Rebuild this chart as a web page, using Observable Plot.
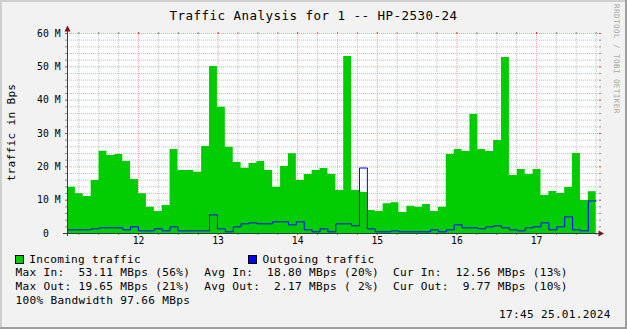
<!DOCTYPE html>
<html>
<head>
<meta charset="utf-8">
<script src="https://cdn.jsdelivr.net/npm/d3@7"></script>
<script src="https://cdn.jsdelivr.net/npm/@observablehq/plot@0.6"></script>
<style>
  html, body { margin: 0; padding: 0; background: #f2f2f2; }
  #chart svg { display: block; }
  #chart svg text { white-space: pre; }
</style>
</head>
<body>
<div id="chart"></div>
<script>
const chartTitle = "Traffic Analysis for 1 -- HP-2530-24";
const yAxisTitle = "traffic in Bps";
const watermark = "RRDTOOL / TOBI OETIKER";
const timestamp = "17:45 25.01.2024";

// time of day in hours
const timeRange = [11.108, 17.779];
const sampleStart = 11.108;
const sampleStep = 0.09914;

// MBps per sample
const incoming = [
  13.9, 11.9, 11.1, 15.9, 24.7, 23.4, 23.7, 21.6, 16.2, 11.9,
  7.9, 6.6, 8.4, 25.2, 18.9, 18.9, 18.4, 26.1, 50.1, 37.9,
  25.9, 21.3, 19.6, 21.0, 21.6, 18.9, 13.9, 20.1, 23.9, 15.9,
  17.7, 18.9, 19.5, 17.7, 12.9, 53.11, 12.9, 12.3, 6.9, 6.6,
  8.9, 9.2, 6.3, 8.2, 7.9, 8.7, 6.6, 7.9, 23.7, 25.2,
  24.6, 35.7, 25.2, 24.6, 27.9, 52.8, 17.4, 19.2, 17.7, 19.2,
  11.4, 12.6, 12.0, 13.8, 24.0, 9.9, 12.56
];
const outgoing = [
  1.1, 1.1, 1.1, 1.4, 1.7, 1.7, 1.7, 1.1, 2.0, 0.8,
  0.8, 1.4, 0.8, 2.0, 0.8, 0.8, 0.8, 0.8, 5.6, 1.4,
  0.5, 2.0, 2.9, 3.2, 2.9, 2.9, 3.5, 3.5, 2.6, 3.5,
  1.1, 0.5, 1.4, 0.5, 2.9, 2.9, 2.3, 19.65, 1.4, 0.5,
  0.5, 0.8, 0.5, 0.5, 0.5, 0.5, 1.1, 0.5, 1.1, 2.6,
  1.7, 1.7, 1.4, 2.0, 2.3, 1.7, 1.1, 0.8, 1.7, 2.0,
  3.2, 1.1, 2.0, 5.0, 1.1, 0.8, 9.77
];

const hourTicks = [12, 13, 14, 15, 16, 17];
const hourLabels = ["12", "13", "14", "15", "16", "17"];
const valueDomain = [0, 60];
const valueTicks = [0, 10, 20, 30, 40, 50, 60];
const valueLabels = ["0  ", "10 M", "20 M", "30 M", "40 M", "50 M", "60 M"];

const seriesNames = ["Incoming traffic", "Outgoing traffic"];
const seriesColors = ["#00cc00", "#0000ff"];
const statLines = [
  "Max In:  53.11 MBps (56%)  Avg In:  18.80 MBps (20%)  Cur In:  12.56 MBps (13%)",
  "Max Out: 19.65 MBps (21%)  Avg Out:  2.17 MBps ( 2%)  Cur Out:  9.77 MBps (10%)",
  "100% Bandwidth 97.66 MBps"
];

// ---- build table ----
const series = incoming.map((v, i) => ({t: sampleStart + i * sampleStep, inc: v, out: outgoing[i]}));
series.push({t: sampleStart + incoming.length * sampleStep, inc: incoming[incoming.length - 1], out: outgoing[outgoing.length - 1]});

const quarterTicks = d3.range(Math.ceil(timeRange[0] * 4) / 4, timeRange[1], 0.25);
const minorX = quarterTicks.filter(h => !Number.isInteger(h));
const minorY = d3.range(valueDomain[0], valueDomain[1], 2).filter(v => v % 10 !== 0);

const GRID = "#8f8f8f", MGRID = "#df3030", AXIS = "#2e4142", ARROW = "#801010";
const FONT = "'DejaVu Sans Mono', monospace";

const chart = Plot.plot({
  width: 627, height: 329,
  marginLeft: 67, marginRight: 29, marginTop: 33, marginBottom: 96,
  x: {domain: timeRange, axis: null},
  y: {domain: valueDomain, axis: null},
  style: {background: "#f2f2f2", fontFamily: FONT, overflow: "visible", color: "#000"},
  marks: [
    Plot.frame({fill: "#ffffff", stroke: null}),
    // dashed grid
    Plot.ruleY(minorY, {stroke: GRID, strokeOpacity: 0.55, strokeDasharray: "1,1"}),
    Plot.ruleX(minorX, {stroke: GRID, strokeOpacity: 0.55, strokeDasharray: "1,1"}),
    Plot.ruleY(valueTicks, {stroke: MGRID, strokeOpacity: 0.45, strokeDasharray: "1,1"}),
    Plot.ruleX(hourTicks, {stroke: MGRID, strokeOpacity: 0.45, strokeDasharray: "1,1"}),
    // small grid ticks outside the canvas
    Plot.axisY(minorY, {anchor: "left", tickSize: 2, tickFormat: () => "", stroke: GRID, label: null}),
    Plot.axisY(minorY, {anchor: "right", tickSize: 2, tickFormat: () => "", stroke: GRID, label: null}),
    Plot.axisY(valueTicks, {anchor: "left", tickSize: 2, tickFormat: () => "", stroke: MGRID, label: null}),
    Plot.axisY(valueTicks, {anchor: "right", tickSize: 2, tickFormat: () => "", stroke: MGRID, label: null}),
    Plot.axisX(minorX, {anchor: "bottom", tickSize: 2, tickFormat: () => "", stroke: GRID, label: null}),
    Plot.axisX(minorX, {anchor: "top", tickSize: 2, tickFormat: () => "", stroke: GRID, label: null}),
    Plot.axisX(hourTicks, {anchor: "bottom", tickSize: 2, tickFormat: () => "", stroke: MGRID, label: null}),
    Plot.axisX(hourTicks, {anchor: "top", tickSize: 2, tickFormat: () => "", stroke: MGRID, label: null}),
    // data
    Plot.areaY(series, {x: "t", y: "inc", curve: "step-after", fill: seriesColors[0]}),
    Plot.line(series, {x: "t", y: "out", curve: "step-after", stroke: seriesColors[1], strokeWidth: 1}),
    // axis lines
    Plot.ruleY([valueDomain[0]], {stroke: AXIS, insetLeft: -4, insetRight: -1}),
    Plot.ruleX([timeRange[0]], {stroke: AXIS, insetTop: -2, insetBottom: -3}),
    // tick labels
    Plot.text(valueTicks, {ariaLabel: "ylabels", frameAnchor: "left", y: d => d, text: (d, i) => valueLabels[i],
      textAnchor: "end", dx: -7, fontSize: 9.72, fill: "#000"}),
    Plot.text(hourTicks, {ariaLabel: "xlabels", frameAnchor: "bottom", x: d => d, text: (d, i) => hourLabels[i],
      textAnchor: "middle", dy: 10, fontSize: 9.72, fill: "#000"})
  ]
});
document.getElementById("chart").appendChild(chart);

const svg = d3.select(chart);
svg.selectAll('g[aria-label="ylabels"] text, g[aria-label="xlabels"] text').style("letter-spacing", "0.15px");

const xs = chart.scale("x"), ys = chart.scale("y");
const xL = xs.apply(timeRange[0]) + 0.5, xR = xs.apply(timeRange[1]);
const yB = ys.apply(valueDomain[0]) + 0.5, yT = ys.apply(valueDomain[1]);

// arrows
svg.append("path").attr("d", `M${xL - 3},${yT - 1.5} L${xL + 3},${yT - 1.5} L${xL},${yT - 7.5} Z`).attr("fill", ARROW);
svg.append("path").attr("d", `M${xR + 0.5},${yB - 3} L${xR + 0.5},${yB + 3} L${xR + 6},${yB} Z`).attr("fill", ARROW);

function addText(str, x, y, size, ls, anchor, fill, transform) {
  const t = svg.append("text")
    .attr("font-family", FONT).attr("font-size", size)
    .attr("text-anchor", anchor || "start")
    .attr("fill", fill || "#000")
    .style("letter-spacing", ls + "px")
    .text(str);
  if (transform) t.attr("transform", transform); else t.attr("x", x).attr("y", y);
  return t;
}

// title
addText(chartTitle, 313.5, 20, 12.5, 0.47, "middle");
// y axis title
addText(yAxisTitle, 0, 0, 11.1, 0.3, "middle", "#000", "translate(14.5,132.5) rotate(-90)");
// watermark
addText(watermark, 0, 0, 7.6, 0.42, "start", "#a8a8a8", "translate(613.5,4) rotate(90)");

// legend
svg.append("rect").attr("x", 15.5).attr("y", 255.5).attr("width", 8).attr("height", 8)
  .attr("fill", seriesColors[0]).attr("stroke", "#000");
addText(seriesNames[0], 29.2, 262.7, 11.1, 0.31, "start");
svg.append("rect").attr("x", 248.5).attr("y", 255.5).attr("width", 8).attr("height", 8)
  .attr("fill", seriesColors[1]).attr("stroke", "#000");
addText(seriesNames[1], 262.6, 262.7, 11.1, 0.31, "start");

statLines.forEach((s, i) => addText(s, 15.5, 276.3 + i * 14, 11.1, 0.31, "start"));
addText(timestamp, 610.8, 318.3, 11.1, 0.31, "end");

// image shading border
svg.append("rect").attr("x", 0).attr("y", 0).attr("width", 627).attr("height", 2).attr("fill", "#cfcfcf");
svg.append("rect").attr("x", 0).attr("y", 0).attr("width", 2).attr("height", 329).attr("fill", "#cfcfcf");
svg.append("rect").attr("x", 625).attr("y", 0).attr("width", 2).attr("height", 329).attr("fill", "#9e9e9e");
svg.append("rect").attr("x", 0).attr("y", 327).attr("width", 627).attr("height", 2).attr("fill", "#9e9e9e");
</script>
</body>
</html>
